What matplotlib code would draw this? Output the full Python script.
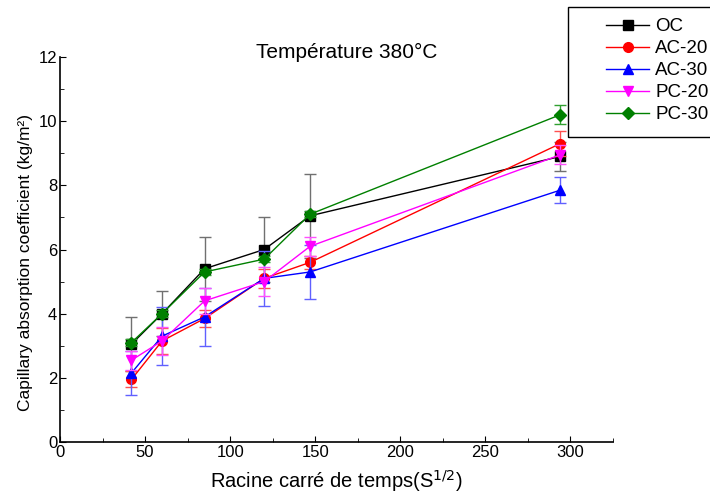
import matplotlib
matplotlib.use("Agg")
import matplotlib.pyplot as plt
from matplotlib.ticker import MultipleLocator
from matplotlib.patches import Rectangle

plt.rcParams['font.family'] = ['Liberation Sans', 'DejaVu Sans']

x = [42, 60, 85, 120, 147, 294]

oc = [3.05, 4.0, 5.4, 6.0, 7.05, 8.9]
oc_err = [0.85, 0.7, 1.0, 1.0, 1.3, 0.45]
ac20 = [1.95, 3.15, 3.85, 5.1, 5.6, 9.3]
ac20_err = [0.25, 0.4, 0.25, 0.3, 0.2, 0.4]
ac30 = [2.15, 3.3, 3.9, 5.1, 5.3, 7.85]
ac30_err = [0.7, 0.9, 0.9, 0.85, 0.85, 0.4]
pc20 = [2.55, 3.15, 4.4, 5.0, 6.1, 8.95]
pc20_err = [0.3, 0.45, 0.4, 0.45, 0.3, 0.3]
pc30 = [3.1, 4.0, 5.3, 5.7, 7.1, 10.2]
pc30_err = [0.1, 0.1, 0.1, 0.1, 0.1, 0.3]

labels = ['OC', 'AC-20', 'AC-30', 'PC-20', 'PC-30']
colors = ['black', 'red', 'blue', 'magenta', 'green']
ecolors = ['#707070', '#ff5050', '#6060ff', '#ff50ff', '#30a030']
markers = ['s', 'o', '^', 'v', 'D']
series = [oc, ac20, ac30, pc20, pc30]
errs = [oc_err, ac20_err, ac30_err, pc20_err, pc30_err]

W, H = 710, 494
fig = plt.figure(figsize=(W / 100, H / 100), dpi=100)
ax = fig.add_axes([60 / W, 1 - 442 / H, 553 / W, 385 / H])

lines = []
for y, e, c, ec, m, lab in zip(series, errs, colors, ecolors, markers, labels):
    ax.errorbar(x, y, yerr=e, fmt='none', ecolor=ec, elinewidth=1, capsize=4, capthick=1)
    ln, = ax.plot(x, y, color=c, marker=m, markersize=7 if m != 'D' else 6, lw=1, label=lab)
    lines.append(ln)

ax.set_xlim(0, 325)
ax.set_ylim(0, 12)
ax.xaxis.set_major_locator(MultipleLocator(50))
ax.xaxis.set_minor_locator(MultipleLocator(25))
ax.yaxis.set_major_locator(MultipleLocator(2))
ax.yaxis.set_minor_locator(MultipleLocator(1))
ax.tick_params(which='both', direction='in', labelsize=12, top=False, right=False)
ax.tick_params(which='major', length=4, pad=2)
ax.tick_params(which='minor', length=3)
ax.spines['top'].set_visible(False)
ax.spines['right'].set_visible(False)
ax.spines['left'].set_linewidth(1.2)
ax.spines['bottom'].set_linewidth(1.2)

fig.text(347 / W, 1 - 58 / H, 'Température 380°C', fontsize=15, ha='center', va='baseline')
ax.set_xlabel('Racine carré de temps(S$^{1/2}$)', fontsize=14.5)
ax.xaxis.set_label_coords(0.5, -0.068)
ax.set_ylabel('Capillary absorption coefficient (kg/m²)', fontsize=12.5)
ax.yaxis.set_label_coords(-0.049, 0.465)

# legend frame sits partly outside the figure on the right
fig.patches.append(Rectangle((568 / W, 1 - 137 / H), 160 / W, 130 / H,
                             transform=fig.transFigure, fill=False,
                             edgecolor='black', linewidth=1.0))
fig.legend(handles=lines, loc='upper left', bbox_to_anchor=(606 / W, 1 - 18 / H),
           fontsize=13.5, frameon=False, borderaxespad=0, borderpad=0,
           handlelength=2.3, labelspacing=0.26, handletextpad=0.33)

fig.savefig('out.png', dpi=100)
